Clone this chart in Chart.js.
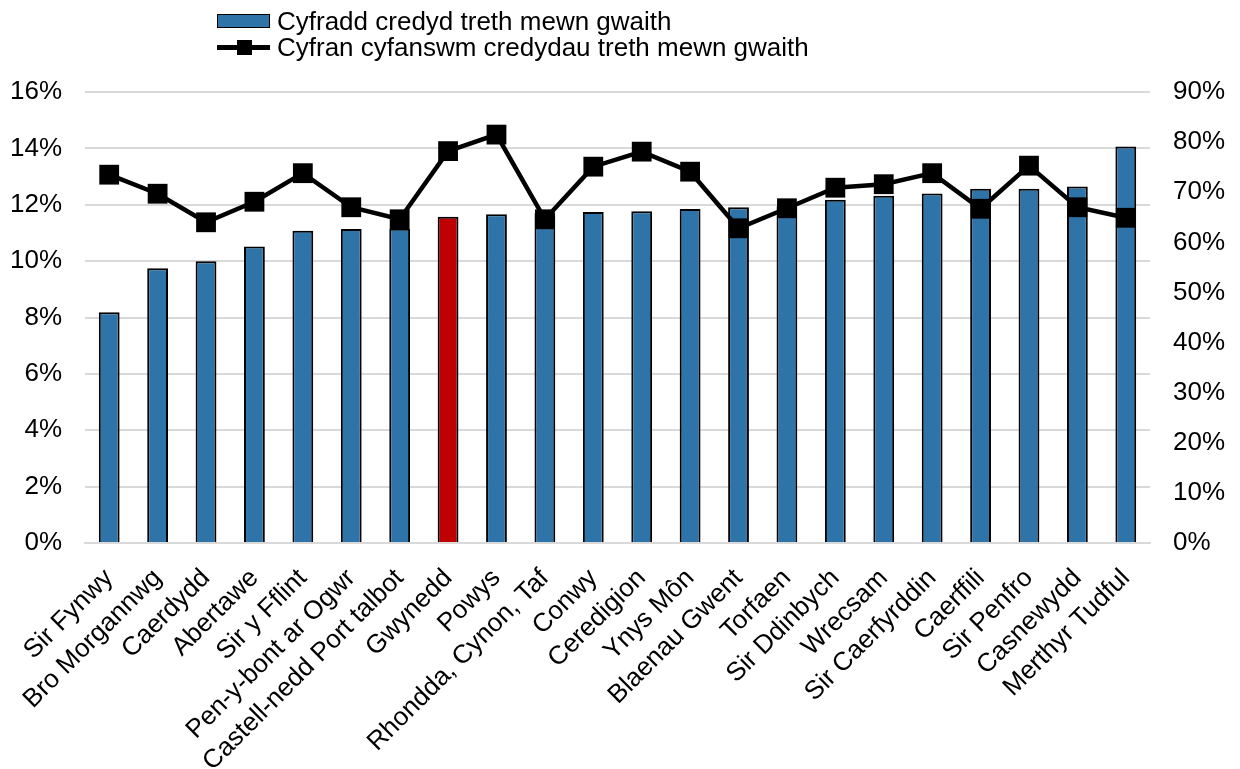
<!DOCTYPE html>
<html>
<head>
<meta charset="utf-8">
<script src="https://cdn.jsdelivr.net/npm/chart.js@4.4.1/dist/chart.umd.min.js"></script>
<style>
  html, body { margin: 0; padding: 0; background: #fff; }
  #wrap { position: relative; width: 1240px; height: 769px; }
  #legend { position: absolute; left: 217px; top: 8px; font-family: "Liberation Sans", Arial, sans-serif; font-size: 26px; color: #000; }
  .row { display: flex; align-items: center; height: 26px; }
  .box { width: 51px; height: 12px; background: #2E74A8; border: 1px solid #000; margin-right: 7px; }
  .ln { position: relative; width: 53px; height: 14px; margin-right: 7px; }
  .ln:before { content: ""; position: absolute; left: 0; right: 0; top: 5px; height: 5px; background: #000; }
  .ln:after { content: ""; position: absolute; left: 20px; top: 0; width: 15px; height: 15px; background: #000; }
</style>
</head>
<body>
<div id="wrap">
  <canvas id="c" width="1240" height="769"></canvas>
  <div id="legend">
    <div class="row"><span class="box"></span>Cyfradd credyd treth mewn gwaith</div>
    <div class="row"><span class="ln"></span>Cyfran cyfanswm credydau treth mewn gwaith</div>
  </div>
</div>
<script>
// Awdurdodau lleol
const areas = ['Sir Fynwy', 'Bro Morgannwg', 'Caerdydd', 'Abertawe', 'Sir y Fflint',
  'Pen-y-bont ar Ogwr', 'Castell-nedd Port talbot', 'Gwynedd', 'Powys', 'Rhondda, Cynon, Taf',
  'Conwy', 'Ceredigion', 'Ynys Môn', 'Blaenau Gwent', 'Torfaen', 'Sir Ddinbych', 'Wrecsam',
  'Sir Caerfyrddin', 'Caerffili', 'Sir Penfro', 'Casnewydd', 'Merthyr Tudful'];

// Cyfradd credyd treth mewn gwaith (%), left axis
const rate = [8.19, 9.75, 10.0, 10.52, 11.08, 11.14, 11.15, 11.57, 11.66, 11.70,
  11.74, 11.77, 11.85, 11.91, 11.95, 12.18, 12.32, 12.40, 12.57, 12.57, 12.65, 14.07];

// Cyfran cyfanswm credydau treth mewn gwaith (%), right axis
const share = [73.5, 69.7, 64.0, 68.1, 73.8, 67.0, 64.6, 78.2, 81.5, 64.6,
  75.1, 78.1, 74.1, 62.8, 66.8, 70.9, 71.6, 73.8, 66.7, 75.3, 67.0, 64.9];

const highlight = 'Gwynedd';

const font = { family: '"Liberation Sans", Arial, sans-serif', size: 26 };

const ctx = document.getElementById('c').getContext('2d');
new Chart(ctx, {
  data: {
    labels: areas,
    datasets: [
      {
        type: 'line',
        label: 'Cyfran cyfanswm credydau treth mewn gwaith',
        data: share,
        yAxisID: 'y2',
        borderColor: '#000',
        backgroundColor: '#000',
        borderWidth: 4.5,
        tension: 0,
        pointStyle: 'rect',
        pointRadius: 14,
        pointBorderWidth: 0,
        order: 0
      },
      {
        type: 'bar',
        label: 'Cyfradd credyd treth mewn gwaith',
        data: rate,
        yAxisID: 'y',
        backgroundColor: areas.map(a => a === highlight ? '#C00000' : '#2E74A8'),
        borderColor: '#000',
        borderWidth: 2,
        categoryPercentage: 1,
        barPercentage: 0.43,
        order: 1
      }
    ]
  },
  options: {
    responsive: false,
    animation: false,
    layout: { padding: { top: 92, left: 0, right: 0, bottom: 0 } },
    plugins: {
      legend: { display: false },
      tooltip: { enabled: false }
    },
    scales: {
      x: {
        grid: { display: false, drawTicks: false },
        border: { color: '#d9d9d9', width: 2 },
        ticks: { font, color: '#000', autoSkip: false, maxRotation: 45, minRotation: 45, padding: 20 },
        afterFit: s => { s.height = 226; }
      },
      y: {
        position: 'left',
        min: 0, max: 16,
        grid: { color: '#d9d9d9', lineWidth: 2, drawTicks: false },
        border: { display: false },
        ticks: { font, color: '#000', stepSize: 2, padding: 23, callback: v => v + '%' },
        afterFit: s => { s.width = 85; }
      },
      y2: {
        position: 'right',
        min: 0, max: 90,
        grid: { display: false, drawTicks: false },
        border: { display: false },
        ticks: { font, color: '#000', stepSize: 10, padding: 23, callback: v => v + '%' },
        afterFit: s => { s.width = 90; }
      }
    }
  }
});
</script>
</body>
</html>
